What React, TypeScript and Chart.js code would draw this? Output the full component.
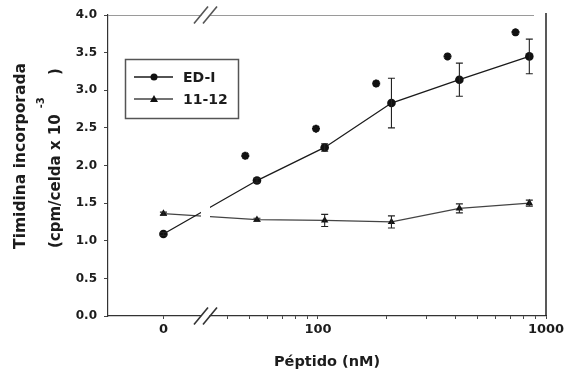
import { useEffect, useRef } from 'react';
import { Chart, registerables } from 'chart.js';

Chart.register(...registerables);

// ---- data ----
const CONCENTRATIONS = [0, 54, 107, 210, 417, 845]; // nM
const ZERO_POSITION = 21; // position of the "0" column on the broken log axis
const EDI_VALUES = [1.09, 1.8, 2.24, 2.83, 3.14, 3.45];
const EDI_ERRORS = [0.02, 0.03, 0.05, 0.33, 0.22, 0.23];
const P1112_VALUES = [1.36, 1.28, 1.27, 1.25, 1.43, 1.5];
const P1112_ERRORS = [0.02, 0.02, 0.08, 0.08, 0.06, 0.04];
const STAR_CONCENTRATIONS = [48, 98, 180, 370, 735];
const STAR_VALUES = [2.13, 2.49, 3.09, 3.45, 3.77];
const X_MAJOR_TICKS = [ZERO_POSITION, 100, 1000];
const X_TICK_LABELS = ['0', '100', '1000'];
const X_MINOR_TICKS = [40, 50, 60, 70, 80, 90, 200, 300, 400, 500, 600, 700, 800, 900];
const Y_MIN = 0;
const Y_MAX = 4;
const Y_STEP = 0.5;
const SERIES_LABELS = ['ED-I', '11-12'];

const FONT = '"DejaVu Sans", sans-serif';
const TEXT = '#1c1c1c';
const BREAK_LO = 201;
const BREAK_HI = 210;

const toX = (c: number) => (c === 0 ? ZERO_POSITION : c);

const decorPlugin = {
  id: 'decor',
  afterDatasetsDraw(chart: any) {
    const { ctx, chartArea, scales } = chart;
    const xs = scales.x;
    const ys = scales.y;
    const { left, right, top, bottom } = chartArea;
    ctx.save();

    // gap in the lines at the axis break
    ctx.fillStyle = '#ffffff';
    ctx.fillRect(BREAK_LO, top + 2, BREAK_HI - BREAK_LO, bottom - top - 4);

    // error bars
    const errs = [EDI_ERRORS, P1112_ERRORS];
    const vals = [EDI_VALUES, P1112_VALUES];
    ctx.strokeStyle = '#222';
    ctx.lineWidth = 1.1;
    errs.forEach((errArr, s) => {
      errArr.forEach((e, i) => {
        const px = xs.getPixelForValue(toX(CONCENTRATIONS[i]));
        const y1 = ys.getPixelForValue(vals[s][i] + e);
        const y2 = ys.getPixelForValue(vals[s][i] - e);
        ctx.beginPath();
        ctx.moveTo(px, y1);
        ctx.lineTo(px, y2);
        ctx.moveTo(px - 3.5, y1);
        ctx.lineTo(px + 3.5, y1);
        ctx.moveTo(px - 3.5, y2);
        ctx.lineTo(px + 3.5, y2);
        ctx.stroke();
      });
    });

    // top border (faint) and right border
    ctx.strokeStyle = '#9a9a9a';
    ctx.lineWidth = 1;
    ctx.beginPath();
    ctx.moveTo(left, top + 0.5);
    ctx.lineTo(right - 12, top + 0.5);
    ctx.stroke();
    ctx.strokeStyle = '#222';
    ctx.lineWidth = 1.5;
    ctx.beginPath();
    ctx.moveTo(right, top - 2);
    ctx.lineTo(right, bottom);
    ctx.stroke();

    // axis break marks
    const cx = (BREAK_LO + BREAK_HI) / 2;
    [top, bottom].forEach((yy, k) => {
      ctx.fillStyle = '#ffffff';
      ctx.fillRect(cx - 4, yy - 2, 8, 4);
      ctx.strokeStyle = k === 0 ? '#555' : '#333';
      ctx.lineWidth = 1.6;
      [-4.5, 4.5].forEach((dx) => {
        ctx.beginPath();
        ctx.moveTo(cx + dx - 7, yy + 8.5);
        ctx.lineTo(cx + dx + 7, yy - 8.5);
        ctx.stroke();
      });
    });

    // legend
    ctx.strokeStyle = '#555';
    ctx.lineWidth = 1.5;
    ctx.strokeRect(125.5, 59.5, 113, 59);
    const rows = [77, 99];
    rows.forEach((ry, i) => {
      ctx.strokeStyle = i === 0 ? '#1a1a1a' : '#444';
      ctx.lineWidth = 1.3;
      ctx.beginPath();
      ctx.moveTo(134, ry);
      ctx.lineTo(173, ry);
      ctx.stroke();
      ctx.fillStyle = '#111';
      ctx.beginPath();
      if (i === 0) {
        ctx.arc(154, ry, 3.5, 0, Math.PI * 2);
      } else {
        ctx.moveTo(154, ry - 4);
        ctx.lineTo(158, ry + 3);
        ctx.lineTo(150, ry + 3);
        ctx.closePath();
      }
      ctx.fill();
      ctx.fillStyle = TEXT;
      ctx.font = `bold 14px ${FONT}`;
      ctx.textAlign = 'left';
      ctx.textBaseline = 'middle';
      ctx.fillText(SERIES_LABELS[i], 183, ry + 1);
    });

    // x title
    ctx.fillStyle = TEXT;
    ctx.font = `bold 14.5px ${FONT}`;
    ctx.textAlign = 'center';
    ctx.textBaseline = 'middle';
    ctx.fillText('Péptido (nM)', (left + right) / 2, 362);

    // y title
    ctx.save();
    ctx.translate(21, 156);
    ctx.rotate(-Math.PI / 2);
    ctx.font = `bold 15.5px ${FONT}`;
    ctx.textAlign = 'center';
    ctx.fillText('Timidina incorporada', 0, 0);
    ctx.restore();

    ctx.save();
    ctx.translate(56, 248);
    ctx.rotate(-Math.PI / 2);
    ctx.font = `bold 15px ${FONT}`;
    ctx.textAlign = 'left';
    const main = '(cpm/celda x 10';
    ctx.fillText(main, 0, 0);
    const w = ctx.measureText(main).width;
    ctx.font = `bold 10px ${FONT}`;
    ctx.fillText('-3', w + 6, -15);
    ctx.font = `bold 15px ${FONT}`;
    ctx.fillText(')', 173, 0);
    ctx.restore();

    ctx.restore();
  },
};

export default function App() {
  const canvasRef = useRef<HTMLCanvasElement | null>(null);

  useEffect(() => {
    if (!canvasRef.current) return;
    const chart = new Chart(canvasRef.current, {
      type: 'line',
      data: {
        datasets: [
          {
            label: SERIES_LABELS[0],
            data: CONCENTRATIONS.map((c, i) => ({ x: toX(c), y: EDI_VALUES[i] })),
            borderColor: '#1a1a1a',
            borderWidth: 1.3,
            pointStyle: 'circle',
            pointRadius: 4.3,
            pointBackgroundColor: '#111',
            pointBorderColor: '#111',
            pointBorderWidth: 0,
            tension: 0,
          },
          {
            label: SERIES_LABELS[1],
            data: CONCENTRATIONS.map((c, i) => ({ x: toX(c), y: P1112_VALUES[i] })),
            borderColor: '#444',
            borderWidth: 1.3,
            pointStyle: 'triangle',
            pointRadius: 4.3,
            pointBackgroundColor: '#111',
            pointBorderColor: '#111',
            pointBorderWidth: 0,
            tension: 0,
          },
          {
            label: 'significance',
            data: STAR_CONCENTRATIONS.map((c, i) => ({ x: c, y: STAR_VALUES[i] })),
            showLine: false,
            pointStyle: 'star',
            pointRadius: 4,
            pointBorderWidth: 2.4,
            pointBorderColor: '#111',
            pointBackgroundColor: '#111',
          },
        ],
      },
      options: {
        animation: false,
        responsive: true,
        maintainAspectRatio: false,
        layout: { padding: { top: 15, right: 30, left: 0, bottom: 0 } },
        plugins: { legend: { display: false }, tooltip: { enabled: false } },
        scales: {
          x: {
            type: 'logarithmic',
            min: 12,
            max: 1000,
            afterBuildTicks: (s: any) => {
              s.ticks = [...X_MAJOR_TICKS, ...X_MINOR_TICKS]
                .sort((a, b) => a - b)
                .map((v) => ({ value: v }));
            },
            afterFit: (s: any) => {
              s.height = 63;
            },
            ticks: {
              autoSkip: false,
              maxRotation: 0,
              minRotation: 0,
              padding: 3,
              color: TEXT,
              font: { family: FONT, size: 13, weight: 'bold' },
              callback: (v: any) => {
                const i = X_MAJOR_TICKS.indexOf(Number(v));
                return i >= 0 ? X_TICK_LABELS[i] : '';
              },
            },
            grid: { display: true, drawOnChartArea: false, drawTicks: true, tickLength: 3, color: '#444' },
            border: { display: true, color: '#333', width: 1.2 },
          },
          y: {
            min: Y_MIN,
            max: Y_MAX,
            afterFit: (s: any) => {
              s.width = 108;
            },
            ticks: {
              stepSize: Y_STEP,
              padding: 7,
              color: TEXT,
              font: { family: FONT, size: 12, weight: 'bold' },
              callback: (v: any) => Number(v).toFixed(1),
            },
            grid: { display: true, drawOnChartArea: false, drawTicks: true, tickLength: 4, color: '#444' },
            border: { display: true, color: '#333', width: 1.2 },
          },
        },
      },
      plugins: [decorPlugin],
    } as any);
    return () => chart.destroy();
  }, []);

  return (
    <div style={{ position: 'fixed', left: 0, top: 0, width: 576, height: 379, background: '#fff' }}>
      <canvas ref={canvasRef} />
    </div>
  );
}
